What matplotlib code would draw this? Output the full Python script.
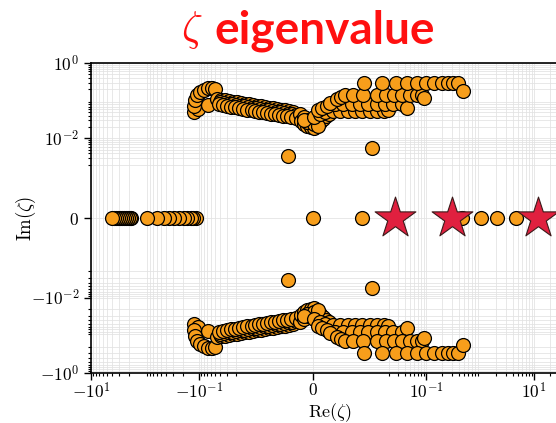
import numpy as np
import matplotlib
matplotlib.use('Agg')
import matplotlib.pyplot as plt
from matplotlib.ticker import FixedLocator, FixedFormatter, NullFormatter

plt.rcParams['mathtext.fontset'] = 'cm'
plt.rcParams['font.family'] = ['DejaVu Serif']

# ---------------- data (upper half-plane; lower half is the conjugate) -------------
hook_re = [-0.121, -0.102, -0.121, -0.116, -0.106, -0.0935, -0.0787, -0.0664, -0.0560, -0.0492, -0.0664]
hook_im = [0.051, 0.0614, 0.0738, 0.106, 0.145, 0.174, 0.196, 0.222, 0.222, 0.209, 0.0784]

rowu_re = [-0.0452, -0.038, -0.0321, -0.027, -0.0228, -0.0192, -0.0162, -0.0136, -0.0115, -0.00987,
           -0.0092, -0.00853, -0.00786, -0.00719, -0.00652, -0.00586, -0.00518, -0.00452, -0.00385, -0.00318]
rowu_im = [0.113, 0.106, 0.106, 0.100, 0.0942, 0.0942, 0.0887, 0.0834, 0.0834, 0.0784,
           0.0738, 0.0738, 0.0694, 0.0653, 0.0653, 0.0614, 0.0577, 0.0577, 0.0543, 0.051]

rowm_re = [-0.0397, -0.0335, -0.0282, -0.0238, -0.0200, -0.0169, -0.0142, -0.0120, -0.0101, -0.00937,
           -0.0087, -0.00803, -0.00736, -0.00669, -0.00602, -0.00535, -0.00468, -0.00402, -0.00335, -0.00268]
rowm_im = [0.0942, 0.0887, 0.0834, 0.0834, 0.0784, 0.0738, 0.0738, 0.0694, 0.0653, 0.0653,
           0.0614, 0.0577, 0.0577, 0.0543, 0.051, 0.051, 0.0481, 0.0452, 0.0452, 0.0425]

rowl_re = [-0.0415, -0.0349, -0.0294, -0.0248, -0.0209, -0.0176, -0.0149, -0.0125, -0.0105, -0.00953,
           -0.00887, -0.0082, -0.00753, -0.00686, -0.00619, -0.00552, -0.00485, -0.00418, -0.00351, -0.00284]
rowl_im = [0.0834, 0.0784, 0.0738, 0.0694, 0.0694, 0.0653, 0.0614, 0.0577, 0.0577, 0.0543,
           0.051, 0.051, 0.0481, 0.0452, 0.0452, 0.0425, 0.040, 0.040, 0.0376, 0.0354]

clus_re = [-0.00217, -0.00184, -0.0015, -0.00134, -0.00084, -0.00067, -0.0005, -0.00033, 0.0,
           0.00017, 0.0005, 0.00067, 0.00117, 0.00117, 0.00167, 0.00218, 0.00268,
           -0.00100, 0.00030, 0.00090, -0.00150]
clus_im = [0.0452, 0.0294, 0.0376, 0.0245, 0.0217, 0.0313, 0.026, 0.0204, 0.0294,
           0.0192, 0.0333, 0.0245, 0.0277, 0.0376, 0.0333, 0.040, 0.0452,
           0.0277, 0.0245, 0.0217, 0.0313]

row4_re = [0.00033, 0.00117, 0.00201, 0.00335, 0.00452, 0.00586, 0.00703, 0.0082, 0.00953, 0.0120, 0.0162, 0.0192]
row4_im = [0.0376, 0.0452, 0.051, 0.0543, 0.0543, 0.0543, 0.0543, 0.0543, 0.0543, 0.0543, 0.0543, 0.0577]

row3_re = [0.00084, 0.00151, 0.00234, 0.00368, 0.00502, 0.00652, 0.00786, 0.0092, 0.0120, 0.0169, 0.0238, 0.0349, 0.0433]
row3_im = [0.0577, 0.0653, 0.0738, 0.0834, 0.0834, 0.0834, 0.0834, 0.0834, 0.0834, 0.0834, 0.0834, 0.0834, 0.0653]

row2_re = [0.00284, 0.00402, 0.00468, 0.00535, 0.00669, 0.00837, 0.0120, 0.0176, 0.0248, 0.0349, 0.0492, 0.0664, 0.0822, 0.0895]
row2_im = [0.0887, 0.113, 0.128, 0.145, 0.145, 0.145, 0.145, 0.145, 0.145, 0.145, 0.145, 0.145, 0.145, 0.120]

top_re = [0.00853, 0.01486, 0.0270, 0.0433, 0.0664, 0.0975, 0.137, 0.194, 0.250, 0.310, 0.384, 0.475]
top_im = [0.301, 0.301, 0.301, 0.301, 0.301, 0.301, 0.301, 0.301, 0.301, 0.301, 0.301, 0.185]

iso_re = [-0.00402, 0.0100]
iso_im = [0.00345, 0.00563]

# purely real eigenvalues (Im = 0)
real_re = [-1.79, -1.87, -2.04, -2.22, -2.42, -2.64, -2.87, -3.13, -3.40, -3.71, -4.04,
           -0.111, -0.126, -0.137, -0.163, -0.185, -0.230, -0.284, -0.352, -0.437, -0.589, -0.904,
           0.0, 0.0082, 0.457, 1.03, 2.04, 4.6]

# highlighted eigenvalues (stars)
star_re = [0.0259, 0.297, 11.8]

# ticks
x_major = [-10, -0.1, 0, 0.1, 10]
x_labels = [r'$-10^{1}$', r'$-10^{-1}$', r'$0$', r'$10^{-1}$', r'$10^{1}$']
y_major = [-1, -0.01, 0, 0.01, 1]
y_labels = [r'$-10^{0}$', r'$-10^{-2}$', r'$0$', r'$10^{-2}$', r'$10^{0}$']

# ---------------- figure ----------------
fig = plt.figure(figsize=(5.56, 4.23), dpi=100)
ax = fig.add_axes([91/556, 1-373/423, 466/556, 310/423])
ax.set_xscale('symlog', linthresh=0.01, linscale=1)
ax.set_yscale('symlog', linthresh=0.001, linscale=1)
ax.set_xlim(-10, 26.7)
ax.set_ylim(-1, 1)

orange = '#F79E1B'
kw = dict(s=100, c=orange, edgecolors='black', linewidths=0.9, zorder=3)

band_re = np.array(hook_re + rowu_re + rowm_re + rowl_re + clus_re + row4_re + row3_re + row2_re + top_re + iso_re)
band_im = np.array(hook_im + rowu_im + rowm_im + rowl_im + clus_im + row4_im + row3_im + row2_im + top_im + iso_im)
ax.scatter(band_re, band_im, **kw)
ax.scatter(band_re, -band_im, **kw)
ax.scatter(real_re, np.zeros(len(real_re)), **kw)
ax.scatter(star_re, np.zeros(len(star_re)), marker='*', s=950, c='#E0203F',
           edgecolors='#3a1a1a', linewidths=0.8, zorder=4)

# ticks and grid
x_minor = [sg * m * 10.0**k for sg in (-1, 1) for k in (-2, -1, 0, 1) for m in range(2, 10)]
y_minor = [sg * m * 10.0**k for sg in (-1, 1) for k in (-3, -2, -1) for m in range(2, 10)]
ax.xaxis.set_major_locator(FixedLocator(x_major))
ax.xaxis.set_major_formatter(FixedFormatter(x_labels))
ax.xaxis.set_minor_locator(FixedLocator(x_minor))
ax.xaxis.set_minor_formatter(NullFormatter())
ax.yaxis.set_major_locator(FixedLocator(y_major))
ax.yaxis.set_major_formatter(FixedFormatter(y_labels))
ax.yaxis.set_minor_locator(FixedLocator(y_minor))
ax.yaxis.set_minor_formatter(NullFormatter())
ax.tick_params(which='major', length=5, width=1.0, labelsize=12.5, direction='out')
ax.tick_params(axis='x', which='major', pad=1.5)
ax.tick_params(which='minor', length=2.5, width=0.8, direction='out')
ax.grid(which='both', color='#e2e2e2', linewidth=0.7, alpha=0.8, zorder=0)
ax.set_axisbelow(True)
for sp in ax.spines.values():
    sp.set_linewidth(1.2)

ax.set_xlabel(r'$\mathrm{Re}(\zeta)$', fontsize=13)
ax.set_ylabel(r'$\mathrm{Im}(\zeta)$', fontsize=13.5)
ax.xaxis.set_label_coords((330-91)/466, (373-401)/310)
ax.yaxis.set_label_coords((38-91)/466, 0.5)

# slide-style title
fig.text(192/556, 1-30/423, r'$\zeta$', color='#FF1010', fontsize=30, ha='center', va='center')
fig.text(214/556, 1-43/423, 'eigenvalue', color='#FF1010', fontsize=33, fontweight='bold',
         family=['Lato', 'DejaVu Sans'], ha='left', va='baseline')

fig.savefig('out.png', dpi=100)
